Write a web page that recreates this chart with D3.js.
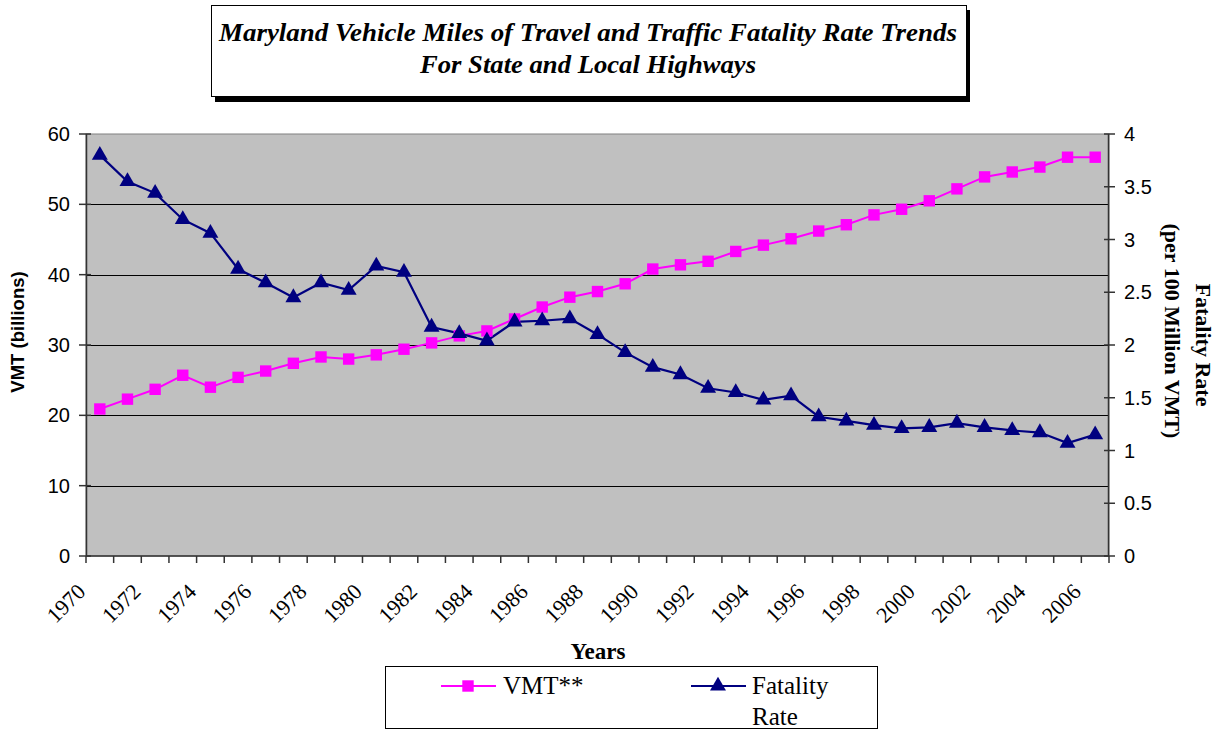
<!DOCTYPE html>
<html>
<head>
<meta charset="utf-8">
<script src="https://cdn.jsdelivr.net/npm/d3@7"></script>
<style>
  body { margin: 0; background: #fff; }
  svg { display: block; }
</style>
</head>
<body>
<script>
// data
var years = d3.range(1970, 2007);
var vmt = [20.9, 22.3, 23.7, 25.7, 24.0, 25.4, 26.3, 27.4, 28.3, 28.0, 28.6, 29.4, 30.3, 31.3, 32.0,
  33.7, 35.4, 36.8, 37.6, 38.7, 40.8, 41.4, 41.9, 43.3, 44.2, 45.1, 46.2, 47.1, 48.5, 49.3,
  50.5, 52.2, 53.9, 54.6, 55.3, 56.7, 56.7];
var fatality = [3.80, 3.55, 3.44, 3.19, 3.06, 2.72, 2.59, 2.45, 2.59, 2.52, 2.75, 2.69, 2.17, 2.11, 2.04,
  2.22, 2.23, 2.25, 2.10, 1.93, 1.79, 1.72, 1.59, 1.55, 1.48, 1.52, 1.32, 1.28, 1.24, 1.21,
  1.22, 1.26, 1.22, 1.19, 1.17, 1.07, 1.15];
var leftTicks = [0, 10, 20, 30, 40, 50, 60];
var rightTicks = [0, 0.5, 1, 1.5, 2, 2.5, 3, 3.5, 4];

var W = 1217, H = 730;
var plot = { left: 86, right: 1109, top: 134, bottom: 556 };
var serif = "Liberation Serif, Times New Roman, serif";
var sans = "Liberation Sans, Arial, sans-serif";

var svg = d3.select("body").append("svg").attr("width", W).attr("height", H);

// scales
var x = d3.scaleBand().domain(years).range([plot.left, plot.right]).padding(0);
var yL = d3.scaleLinear().domain([0, 60]).range([plot.bottom, plot.top]);
var yR = d3.scaleLinear().domain([0, 4]).range([plot.bottom, plot.top]);
function cx(d) { return x(d) + x.bandwidth() / 2; }

// title box with shadow
svg.append("rect").attr("x", 215).attr("y", 10).attr("width", 755).attr("height", 92).attr("fill", "#000");
svg.append("rect").attr("x", 211.5).attr("y", 5.5).attr("width", 755).attr("height", 91)
  .attr("fill", "#fff").attr("stroke", "#000").attr("stroke-width", 1);
var title = svg.append("text").attr("text-anchor", "middle")
  .attr("font-family", serif).attr("font-weight", "bold").attr("font-style", "italic").attr("font-size", 26);
title.append("tspan").attr("x", 588).attr("y", 41)
  .attr("textLength", 738).attr("lengthAdjust", "spacingAndGlyphs")
  .text("Maryland Vehicle Miles of Travel and Traffic Fatality Rate Trends");
title.append("tspan").attr("x", 588).attr("y", 73)
  .attr("textLength", 336).attr("lengthAdjust", "spacingAndGlyphs")
  .text("For State and Local Highways");

// plot area
svg.append("rect").attr("x", plot.left).attr("y", plot.top)
  .attr("width", plot.right - plot.left).attr("height", plot.bottom - plot.top)
  .attr("fill", "#c0c0c0").attr("stroke", "#808080");

// gridlines
svg.append("g").selectAll("line").data(leftTicks.slice(1, -1)).enter().append("line")
  .attr("x1", plot.left).attr("x2", plot.right)
  .attr("y1", function (d) { return Math.round(yL(d)) + 0.5; })
  .attr("y2", function (d) { return Math.round(yL(d)) + 0.5; })
  .attr("stroke", "#000").attr("stroke-width", 1);

// left axis
var gL = svg.append("g").attr("font-family", sans).attr("font-size", 20).attr("fill", "#000");
gL.append("line").attr("x1", plot.left + 0.5).attr("x2", plot.left + 0.5).attr("y1", plot.top).attr("y2", plot.bottom)
  .attr("stroke", "#333").attr("stroke-width", 1.5);
gL.selectAll(".t").data(leftTicks).enter().append("line")
  .attr("x1", plot.left - 7).attr("x2", plot.left + 5)
  .attr("y1", function (d) { return yL(d); }).attr("y2", function (d) { return yL(d); })
  .attr("stroke", "#333").attr("stroke-width", 1.5);
gL.selectAll("text").data(leftTicks).enter().append("text")
  .attr("x", plot.left - 16).attr("y", function (d) { return yL(d) + 7; })
  .attr("text-anchor", "end").text(function (d) { return d; });

// right axis
var gR = svg.append("g").attr("font-family", sans).attr("font-size", 20).attr("fill", "#000");
gR.append("line").attr("x1", plot.right - 0.5).attr("x2", plot.right - 0.5).attr("y1", plot.top).attr("y2", plot.bottom)
  .attr("stroke", "#333").attr("stroke-width", 1.5);
gR.selectAll(".t").data(rightTicks).enter().append("line")
  .attr("x1", plot.right - 5).attr("x2", plot.right + 6)
  .attr("y1", function (d) { return yR(d); }).attr("y2", function (d) { return yR(d); })
  .attr("stroke", "#333").attr("stroke-width", 1.5);
gR.selectAll("text").data(rightTicks).enter().append("text")
  .attr("x", plot.right + 15).attr("y", function (d) { return yR(d) + 7; })
  .text(function (d) { return d; });

// bottom axis
var gB = svg.append("g");
gB.append("line").attr("x1", plot.left).attr("x2", plot.right).attr("y1", plot.bottom).attr("y2", plot.bottom)
  .attr("stroke", "#333").attr("stroke-width", 1.5);
gB.selectAll("line.t").data(years.concat([2007])).enter().append("line")
  .attr("x1", function (d) { return d === 2007 ? plot.right : x(d); })
  .attr("x2", function (d) { return d === 2007 ? plot.right : x(d); })
  .attr("y1", plot.bottom).attr("y2", plot.bottom + 7)
  .attr("stroke", "#333").attr("stroke-width", 1.5);
gB.selectAll("text").data(years.filter(function (d) { return d % 2 === 0; })).enter().append("text")
  .attr("transform", function (d) { return "translate(" + (cx(d) - 13) + "," + 593 + ") rotate(-45)"; })
  .attr("text-anchor", "end")
  .attr("font-family", serif).attr("font-size", 22)
  .text(function (d) { return d; });

// axis titles
svg.append("text").attr("transform", "translate(24,332) rotate(-90)").attr("text-anchor", "middle")
  .attr("font-family", sans).attr("font-weight", "bold").attr("font-size", 18.5)
  .text("VMT (billions)");
svg.append("text").attr("transform", "translate(1196,345) rotate(90)").attr("text-anchor", "middle")
  .attr("font-family", serif).attr("font-weight", "bold").attr("font-size", 22)
  .text("Fatality  Rate");
svg.append("text").attr("transform", "translate(1165,331) rotate(90)").attr("text-anchor", "middle")
  .attr("font-family", serif).attr("font-weight", "bold").attr("font-size", 22)
  .text("(per 100 Million VMT)");
svg.append("text").attr("x", 598).attr("y", 659).attr("text-anchor", "middle")
  .attr("font-family", serif).attr("font-weight", "bold").attr("font-size", 23)
  .text("Years");

// series
var pink = "#ff00ff", navy = "#000080";
var lineV = d3.line().x(function (d, i) { return cx(years[i]); }).y(function (d) { return yL(d); });
var lineF = d3.line().x(function (d, i) { return cx(years[i]); }).y(function (d) { return yR(d); });
svg.append("path").attr("d", lineV(vmt)).attr("fill", "none").attr("stroke", pink).attr("stroke-width", 2);
svg.append("path").attr("d", lineF(fatality)).attr("fill", "none").attr("stroke", navy).attr("stroke-width", 2.2);

var sq = d3.symbol().type(d3.symbolSquare).size(130);
var tri = d3.symbol().type(d3.symbolTriangle).size(110);
svg.append("g").selectAll("path").data(vmt).enter().append("path")
  .attr("d", sq).attr("fill", pink)
  .attr("transform", function (d, i) { return "translate(" + cx(years[i]) + "," + yL(d) + ")"; });
svg.append("g").selectAll("path").data(fatality).enter().append("path")
  .attr("d", tri).attr("fill", navy)
  .attr("transform", function (d, i) { return "translate(" + cx(years[i]) + "," + yR(d) + ")"; });

// legend
var lg = svg.append("g").attr("font-family", serif).attr("font-size", 25);
lg.append("rect").attr("x", 385.5).attr("y", 666.5).attr("width", 492).attr("height", 62)
  .attr("fill", "#fff").attr("stroke", "#000");
lg.append("line").attr("x1", 441).attr("x2", 496).attr("y1", 686).attr("y2", 686).attr("stroke", pink).attr("stroke-width", 2);
lg.append("path").attr("d", sq).attr("fill", pink).attr("transform", "translate(468,686)");
lg.append("text").attr("x", 503).attr("y", 694).text("VMT**");
lg.append("line").attr("x1", 691).attr("x2", 746).attr("y1", 686).attr("y2", 686).attr("stroke", navy).attr("stroke-width", 2);
lg.append("path").attr("d", tri).attr("fill", navy).attr("transform", "translate(718,686)");
lg.append("text").attr("x", 752).attr("y", 694).text("Fatality");
lg.append("text").attr("x", 752).attr("y", 725).text("Rate");
</script>
</body>
</html>
